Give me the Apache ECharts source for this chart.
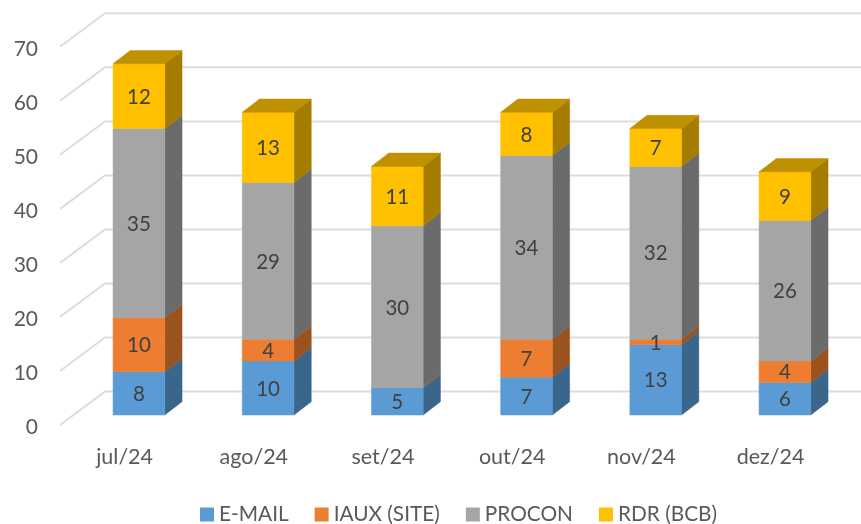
<!DOCTYPE html>
<html>
<head>
<meta charset="utf-8">
<style>
    html, body { margin: 0; padding: 0; background: #fff; }
    #chart { width: 861px; height: 524px; }
</style>
</head>
<body>
<div id="chart"></div>
<script src="https://cdn.jsdelivr.net/npm/echarts@6/dist/echarts.min.js"></script>
<script>
    var months = ['jul/24', 'ago/24', 'set/24', 'out/24', 'nov/24', 'dez/24'];
    var email = [8, 10, 5, 7, 13, 6];
    var iaux = [10, 4, 0, 7, 1, 4];
    var procon = [35, 29, 30, 34, 32, 26];
    var rdr = [12, 13, 11, 8, 7, 9];
    var yTicks = [0, 10, 20, 30, 40, 50, 60, 70];

    var seriesNames = ['E-MAIL', 'IAUX (SITE)', 'PROCON', 'RDR (BCB)'];
    var seriesValues = [email, iaux, procon, rdr];
    var frontColors = ['#5B9BD5', '#ED7D31', '#A5A5A5', '#FFC000'];
    var sideColors = ['#3A668C', '#9A521F', '#6B6B6B', '#A67C00'];
    var topColors = ['#4A7FAE', '#BE6427', '#848484', '#BF9000'];

    var fontName = 'Lato, "Open Sans", sans-serif';

    // perspective offsets of the fake 3D box, in pixels
    var wallDx = 45, wallDy = -33.4;
    var floorDx = 14.3, floorDy = -10;
    var barDx = 17.3, barDy = -13.3;
    var barRatio = 0.4;

    function poly(points, color) {
        return {
            type: 'polygon',
            shape: { points: points },
            style: { fill: color, stroke: color, lineWidth: 0.5 }
        };
    }

    function renderWallLine(params, api) {
        var sys = params.coordSys;
        var y = api.coord([0, api.value(1)])[1];
        return {
            type: 'polyline',
            silent: true,
            shape: { points: [[sys.x, y], [sys.x + wallDx, y + wallDy], [sys.x + sys.width + wallDx, y + wallDy]] },
            style: { fill: null, stroke: '#DDDDDD', lineWidth: 2 }
        };
    }

    function makeRender(idx) {
        return function (params, api) {
            if (!api.value(3)) return { type: 'group', children: [] };
            var hi = api.coord([api.value(0), api.value(1)]);
            var lo = api.coord([api.value(0), api.value(2)]);
            var w = api.size([1, 0])[0] * barRatio;
            var x0 = hi[0] + floorDx - w / 2;
            var x1 = x0 + w;
            var yt = hi[1] + floorDy;
            var yb = lo[1] + floorDy;
            var children = [
                poly([[x1, yt], [x1 + barDx, yt + barDy], [x1 + barDx, yb + barDy], [x1, yb]], sideColors[idx]),
                poly([[x0, yt], [x1, yt], [x1, yb], [x0, yb]], frontColors[idx])
            ];
            if (idx === seriesValues.length - 1) {
                children.push(poly([[x0, yt], [x0 + barDx, yt + barDy], [x1 + barDx, yt + barDy], [x1, yt]], topColors[idx]));
            }
            return { type: 'group', children: children };
        };
    }

    // labels go in their own series so a thin segment's number stays above the next segment
    function renderLabel(params, api) {
        var p = api.coord([api.value(0), api.value(1)]);
        return {
            type: 'text',
            silent: true,
            style: {
                text: String(api.value(2)),
                x: p[0] + floorDx,
                y: p[1] + floorDy + 1,
                align: 'center',
                verticalAlign: 'middle',
                fill: '#404040',
                font: '20.5px ' + fontName
            }
        };
    }

    var chartSeries = [{
        type: 'custom',
        name: 'walls',
        silent: true,
        z: 1,
        renderItem: renderWallLine,
        encode: { x: 0, y: 1 },
        data: yTicks.map(function (t) { return [0, t]; })
    }];

    var labelData = [];
    var running = months.map(function () { return 0; });
    seriesValues.forEach(function (values, idx) {
        chartSeries.push({
            type: 'custom',
            name: seriesNames[idx],
            z: 2 + idx,
            itemStyle: { color: frontColors[idx] },
            renderItem: makeRender(idx),
            encode: { x: 0, y: 1 },
            data: values.map(function (v, i) {
                var base = running[i];
                running[i] = base + v;
                if (v) labelData.push([i, base + v / 2, v]);
                return [i, base + v, base, v];
            })
        });
    });

    chartSeries.push({
        type: 'custom',
        name: 'labels',
        silent: true,
        z: 10,
        renderItem: renderLabel,
        encode: { x: 0, y: 1 },
        data: labelData
    });

    var chart = echarts.init(document.getElementById('chart'));
    chart.setOption({
        animation: false,
        backgroundColor: '#fff',
        textStyle: { fontFamily: fontName },
        grid: { left: 60, top: 46.7, width: 775.2, height: 378.3 },
        legend: {
            data: seriesNames,
            left: 195,
            top: 499,
            icon: 'rect',
            itemWidth: 14,
            itemHeight: 14,
            itemGap: 26,
            textStyle: { color: '#595959', fontSize: 20.8, fontFamily: fontName }
        },
        xAxis: {
            type: 'category',
            data: months,
            axisLine: { show: false },
            axisTick: { show: false },
            axisLabel: { color: '#595959', fontSize: 21.5, margin: 21, fontFamily: fontName }
        },
        yAxis: {
            type: 'value',
            min: 0,
            max: 70,
            interval: 10,
            axisLine: { show: false },
            axisTick: { show: false },
            splitLine: { show: false },
            axisLabel: {
                color: '#595959',
                fontSize: 21,
                margin: 22,
                verticalAlign: 'top',
                lineHeight: 5,
                fontFamily: fontName
            }
        },
        series: chartSeries
    });
</script>
</body>
</html>
